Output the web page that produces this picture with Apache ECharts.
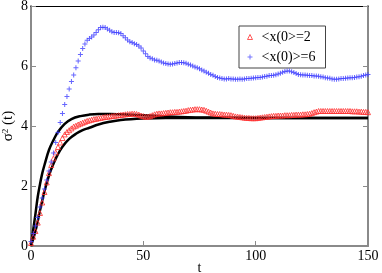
<!DOCTYPE html>
<html><head><meta charset="utf-8">
<script src="https://cdn.jsdelivr.net/npm/echarts@6/dist/echarts.min.js"></script>
<style>html,body{margin:0;padding:0;background:#fff}#c{width:382px;height:273px}</style>
</head><body><div id="c"></div>
<script>
// Series values at t = 0,1,2,...,150
const blueVals = [0.15,0.42,0.67,0.95,1.3,1.6,1.9,2.2,2.5,2.8,3.1,3.45,3.78,4.12,4.42,4.72,4.98,
5.23,5.48,5.7,5.94,6.17,6.38,6.58,6.73,6.86,6.92,6.97,7.03,7.12,7.21,
7.28,7.29,7.28,7.23,7.19,7.14,7.12,7.12,7.11,7.08,7.01,6.94,6.87,6.81,6.78,
6.74,6.72,6.67,6.6,6.5,6.41,6.32,6.27,6.24,6.2,6.19,6.17,6.13,6.1,6.08,6.07,6.06,
6.07,6.08,6.1,6.12,6.12,6.11,6.09,6.06,6.03,6.0,5.97,5.94,5.91,5.87,5.83,5.79,5.76,5.72,
5.69,5.65,5.62,5.6,5.58,5.57,5.57,5.58,5.57,5.57,5.56,5.56,5.57,5.56,5.57,5.58,5.58,5.59,5.6,5.61,
5.62,5.62,5.63,5.65,5.66,5.68,5.68,5.69,5.71,5.73,5.76,5.79,5.82,5.83,5.83,5.81,5.78,5.75,5.72,5.71,
5.7,5.7,5.69,5.68,5.68,5.67,5.67,5.66,5.64,5.63,5.61,5.6,5.59,5.57,5.56,5.56,5.57,5.58,5.58,5.59,
5.6,5.61,5.61,5.62,5.63,5.64,5.66,5.68,5.7,5.72];
const redVals = [0.1,0.31,0.5,0.78,1.1,1.45,1.8,2.12,2.43,2.7,2.92,3.12,3.3,3.45,3.6,3.72,3.8,
3.86,3.92,3.98,4.01,4.05,4.08,4.11,4.14,4.17,4.19,4.21,4.23,4.24,4.26,
4.27,4.29,4.3,4.31,4.32,4.33,4.34,4.35,4.36,4.37,4.38,4.39,4.4,4.4,4.41,4.41,
4.4,4.38,4.35,4.33,4.31,4.31,4.33,4.36,4.39,4.41,4.42,4.42,4.43,4.44,
4.45,4.46,4.46,4.47,4.47,4.48,4.49,4.5,4.51,4.53,4.54,4.55,4.56,4.56,4.56,4.55,4.54,4.51,4.48,4.45,
4.42,4.41,4.4,4.4,4.39,4.38,4.38,4.37,4.36,4.34,4.32,4.31,4.3,4.29,4.28,4.27,4.27,4.26,4.26,4.26,
4.27,4.28,4.29,4.3,4.31,4.32,4.33,4.34,4.34,4.35,4.35,4.35,4.36,4.36,4.36,4.37,4.37,4.38,4.38,4.38,
4.39,4.39,4.4,4.41,4.43,4.46,4.48,4.5,4.5,4.5,4.5,4.5,4.5,4.5,4.5,4.5,4.5,4.5,4.5,4.5,
4.5,4.5,4.49,4.49,4.49,4.48,4.48,4.47,4.47,4.46];
// Fit curves (read at chosen t)
const fitUpperT = [0,1,2,3,4,5,6,8,10,12,15,18,22,26,30,35,40,50,60,70,80,100,150];
const fitUpperV = [0,0.55,1.08,1.64,2.06,2.42,2.7,3.2,3.53,3.8,4.07,4.23,4.33,4.38,4.4,4.4,4.39,4.36,4.32,4.29,4.28,4.27,4.27];
const fitLowerT = [0,2,4,6,8,10,12,14,17,20,23,26,30,35,40,50,60,80,100,150];
const fitLowerV = [0,0.5,1.18,1.83,2.35,2.74,3.06,3.31,3.57,3.74,3.86,3.94,4.05,4.14,4.2,4.25,4.27,4.27,4.27,4.27];
const xTicks = [0,50,100,150];
const yTicks = [0,2,4,6,8];
const legendNames = ['<x(0>=2','<x(0)>=6'];

const pairs = (ts, vs) => vs.map((v,i)=>[ts[i], v]);
const idx = v => v.map((y,i)=>[i,y]);
const plusPath = 'path://M2,0h1v2h2v1h-2v2h-1v-2h-2v-1h2z';
const serif = 'Liberation Serif';
const gray = '#8a8a8a';

const chart = echarts.init(document.getElementById('c'));
chart.setOption({
  animation:false,
  textStyle:{fontFamily:serif},
  grid:{left:31,right:14,top:6,bottom:27,containLabel:false,outerBoundsMode:'none'},
  legend:{
    orient:'vertical', left:239, top:26, width:89,
    data:[{name:legendNames[0], icon:'triangle', itemStyle:{color:'rgba(0,0,0,0)',borderColor:'#ff3030',borderWidth:1}},
          {name:legendNames[1], icon:plusPath, itemStyle:{color:'#5050ff'}}],
    itemWidth:5, itemHeight:5, itemGap:6,
    borderColor:'#444', borderWidth:1, padding:[4,10,4,8],
    textStyle:{fontFamily:serif,fontSize:14,color:'#000',padding:[0,0,0,4]}
  },
  xAxis:[{type:'value',min:0,max:150,interval:50,position:'bottom',
    name:'t',nameLocation:'middle',nameGap:15,nameMoveOverlap:false,nameTextStyle:{fontSize:14,color:'#000',fontFamily:serif},
    axisLine:{lineStyle:{color:gray,width:2}},
    axisTick:{inside:true,length:5,lineStyle:{color:gray,width:1}},
    axisLabel:{fontSize:14,color:'#000',margin:3,fontFamily:serif},
    splitLine:{show:false}},
   {type:'value',min:0,max:150,position:'top',
    axisLine:{onZero:false,lineStyle:{color:'#000',width:1}},axisTick:{show:false},axisLabel:{show:false},splitLine:{show:false}}],
  yAxis:[{type:'value',min:0,max:8,interval:2,position:'left',
    name:'{a|σ}{b|2}{a| (t)}',nameLocation:'middle',nameGap:15,nameRotate:90,nameMoveOverlap:false,
    nameTextStyle:{rich:{a:{fontSize:15,fontFamily:serif,color:'#000'},b:{fontSize:9,fontFamily:serif,color:'#000',verticalAlign:'top',padding:[0,0,6,0]}}},
    axisLine:{lineStyle:{color:gray,width:2}},
    axisTick:{inside:true,length:5,lineStyle:{color:gray,width:1}},
    axisLabel:{fontSize:14,color:'#000',margin:3,fontFamily:serif},
    splitLine:{show:false}},
   {type:'value',min:0,max:8,interval:2,position:'right',
    axisLine:{onZero:false,lineStyle:{color:gray,width:2}},
    axisTick:{inside:true,length:5,lineStyle:{color:gray,width:1}},
    axisLabel:{show:false},splitLine:{show:false}}],
  series:[
    {name:'fitA',type:'line',data:pairs(fitUpperT,fitUpperV),smooth:0.4,showSymbol:false,symbol:'none',
     lineStyle:{color:'#000',width:2.5},z:2},
    {name:'fitB',type:'line',data:pairs(fitLowerT,fitLowerV),smooth:0.4,showSymbol:false,symbol:'none',
     lineStyle:{color:'#000',width:2.5},z:2},
    {name:legendNames[0],type:'scatter',data:idx(redVals),symbol:'triangle',symbolSize:5,
     itemStyle:{color:'rgba(0,0,0,0)',borderColor:'#ff3030',borderWidth:1,opacity:0.8},z:3},
    {name:legendNames[1],type:'scatter',data:idx(blueVals),symbol:plusPath,symbolSize:5,
     itemStyle:{color:'#4040ff',opacity:0.8},z:4}
  ]
});
</script></body></html>
